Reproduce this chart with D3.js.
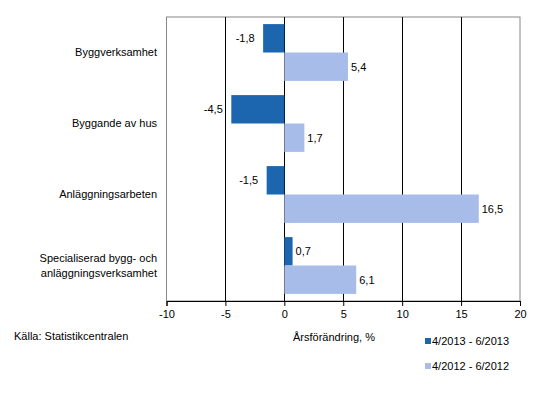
<!DOCTYPE html>
<html><head><meta charset="utf-8">
<script src="https://cdn.jsdelivr.net/npm/d3@7"></script>
<style>body{margin:0;background:#fff}svg{display:block;font-family:"Liberation Sans",Arial,sans-serif}</style>
</head><body><svg id="c" width="538" height="402"></svg>
<script>
const categories = ["Byggverksamhet","Byggande av hus","Anläggningsarbeten","Specialiserad bygg- och\nanläggningsverksamhet"];
const series2013 = [-1.8,-4.5,-1.5,0.7];
const series2012 = [5.4,1.7,16.5,6.1];
const seriesNames = ["4/2013 - 6/2013","4/2012 - 6/2012"];
const xTicks = [-10,-5,0,5,10,15,20];
const colors = ["#1c66b0","#a7bce9"];

const svg = d3.select("#c");
const L=166.5, R=520, T=17, B=301;
const x = d3.scaleLinear().domain([-10,20]).range([L,R]);
const y = d3.scaleBand().domain(categories).range([T,B]).paddingInner(0.2).paddingOuter(0.1);
const y2 = d3.scaleBand().domain([0,1]).range([0,y.bandwidth()]);

// frame
svg.append("rect").attr("x",L).attr("y",T).attr("width",R-L).attr("height",B-T)
  .attr("fill","none").attr("stroke","#888").attr("stroke-width",1);
// gridlines
svg.append("g").selectAll("line").data(xTicks.filter(d=>d>-10&&d<20)).join("line")
  .attr("x1",d=>Math.round(x(d))+0.5).attr("x2",d=>Math.round(x(d))+0.5).attr("y1",T).attr("y2",B)
  .attr("stroke","#000").attr("stroke-width",1);

const fmt = v => String(v).replace(".",",");
const data = [series2013, series2012];
data.forEach((s,si)=>{
  const g = svg.append("g");
  g.selectAll("rect").data(s).join("rect")
    .attr("x",d=>x(Math.min(0,d))).attr("width",d=>Math.abs(x(d)-x(0)))
    .attr("y",(d,i)=>y(categories[i])+y2(si)).attr("height",y2.bandwidth())
    .attr("fill",colors[si]);
  g.selectAll("text").data(s).join("text")
    .attr("x",d=>d<0?x(d)-8.5:x(d)+3)
    .attr("y",(d,i)=>y(categories[i])+y2(si)+y2.bandwidth()/2)
    .attr("dy","0.35em").attr("text-anchor",d=>d<0?"end":"start")
    .attr("font-size",11).attr("fill","#000").text(fmt);
});

// x axis
const ax = svg.append("g").attr("transform",`translate(0,${B})`)
  .call(d3.axisBottom(x).tickValues(xTicks).tickSize(5).tickFormat(d=>d));
ax.select(".domain").attr("stroke","#000");
ax.selectAll(".tick line").attr("stroke","#000");
ax.selectAll(".tick text").attr("font-size",11).attr("font-family","Liberation Sans, Arial, sans-serif").attr("fill","#000").attr("dy","0.85em");

// category labels
categories.forEach(c=>{
  const lines=c.split("\n");
  const cy=y(c)+y.bandwidth()/2;
  const t=svg.append("text").attr("text-anchor","end").attr("font-size",11).attr("fill","#000");
  lines.forEach((ln,i)=>{
    t.append("tspan").attr("x",157).attr("y",cy+(i-(lines.length-1)/2)*15).attr("dy","0.35em").text(ln);
  });
});

svg.append("text").attr("x",334).attr("y",337).attr("dy","0.35em").attr("text-anchor","middle")
  .attr("font-size",11).text("Årsförändring, %");
svg.append("text").attr("x",14).attr("y",336).attr("dy","0.35em").attr("font-size",11).text("Källa: Statistikcentralen");

seriesNames.forEach((n,i)=>{
  const yy=341+i*25;
  svg.append("rect").attr("x",425).attr("y",yy-3).attr("width",6).attr("height",6).attr("fill",colors[i]);
  svg.append("text").attr("x",432).attr("y",yy).attr("dy","0.35em").attr("font-size",11).text(n);
});
</script></body></html>
